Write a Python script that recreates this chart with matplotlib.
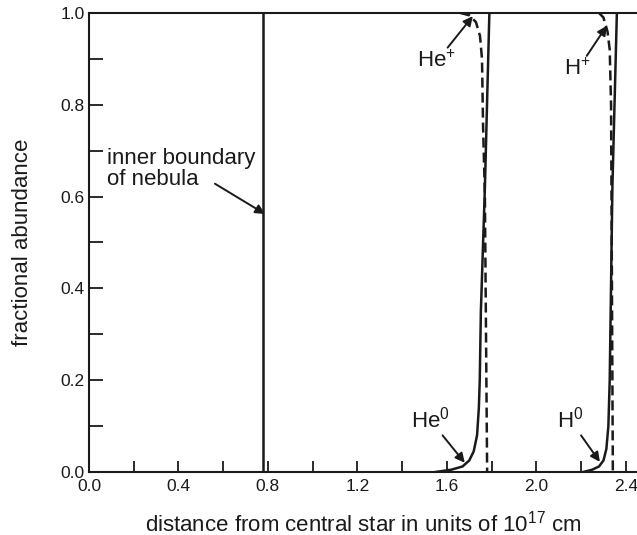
import matplotlib
matplotlib.use("Agg")
import matplotlib.pyplot as plt
from matplotlib.ticker import MultipleLocator

plt.rcParams['font.family'] = ['Liberation Sans', 'DejaVu Sans']
plt.rcParams['mathtext.fontset'] = 'custom'
plt.rcParams['mathtext.rm'] = 'Liberation Sans'
plt.rcParams['mathtext.default'] = 'regular'

# inner boundary of nebula
boundary_x = [0.78, 0.78]
boundary_y = [0.0, 1.0]

# He0 (solid) and He+ (dashed)
he0_x = [1.55, 1.62, 1.67, 1.70, 1.72, 1.735, 1.743, 1.747, 1.752, 1.77, 1.79]
he0_y = [0.0, 0.005, 0.012, 0.025, 0.045, 0.08, 0.14, 0.2, 0.35, 0.62, 1.0]
hep_x = [1.66, 1.70, 1.73, 1.748, 1.757, 1.762, 1.77, 1.775, 1.78]
hep_y = [1.0, 0.995, 0.98, 0.95, 0.90, 0.75, 0.6, 0.3, 0.0]

# H0 (solid) and H+ (dashed)
h0_x = [2.21, 2.25, 2.28, 2.30, 2.313, 2.322, 2.328, 2.34, 2.36]
h0_y = [0.0, 0.005, 0.012, 0.025, 0.05, 0.10, 0.2, 0.62, 1.0]
hp_x = [2.28, 2.30, 2.318, 2.328, 2.334, 2.338, 2.342]
hp_y = [1.0, 0.99, 0.96, 0.92, 0.8, 0.4, 0.0]

fig = plt.figure(figsize=(6.37, 5.35), dpi=100)
ax = fig.add_axes([0.1397, 0.1178, 0.8603, 0.858])

ink = '#1a1a1a'
ax.plot(boundary_x, boundary_y, color=ink, lw=1.8)
ax.plot(he0_x, he0_y, color=ink, lw=1.8)
ax.plot(hep_x, hep_y, color=ink, lw=1.8, dashes=(4, 2))
ax.plot(h0_x, h0_y, color=ink, lw=1.8)
ax.plot(hp_x, hp_y, color=ink, lw=1.8, dashes=(4, 2))

ax.set_xlim(0, 2.45)
ax.set_ylim(0, 1.0)
ax.spines['right'].set_visible(False)
for s in ['left', 'bottom', 'top']:
    ax.spines[s].set_linewidth(1.5)
    ax.spines[s].set_color(ink)

ax.xaxis.set_major_locator(MultipleLocator(0.4))
ax.xaxis.set_minor_locator(MultipleLocator(0.2))
ax.yaxis.set_major_locator(MultipleLocator(0.2))
ax.yaxis.set_minor_locator(MultipleLocator(0.1))
ax.tick_params(which='both', direction='in', color=ink, width=1.3,
               labelsize=12.5, labelcolor=ink, top=False, right=False)
ax.tick_params(axis='x', which='both', length=8, pad=5)
ax.tick_params(axis='y', which='both', length=10, pad=3)
ax.xaxis.set_major_formatter(plt.FuncFormatter(lambda v, p: f'{v:.1f}'))
ax.yaxis.set_major_formatter(plt.FuncFormatter(lambda v, p: f'{v:.1f}'))

ax.set_xlabel('distance from central star in units of 10$^{17}$ cm',
              fontsize=16, color=ink, labelpad=12)
ax.set_ylabel('fractional abundance', fontsize=16, color=ink, labelpad=20)

arrow = dict(arrowstyle='-|>', color=ink, lw=1.4, mutation_scale=14,
             shrinkA=0, shrinkB=0)
ax.annotate('', xy=(0.787, 0.562), xytext=(0.563, 0.628), arrowprops=arrow)
ax.text(0.08, 0.705, 'inner boundary\nof nebula', fontsize=16, color=ink,
        va='top', ha='left', linespacing=1.0)

ax.annotate('He$^{+}$', xy=(1.716, 0.993), xytext=(1.555, 0.895),
            fontsize=16, color=ink, ha='center', va='center', arrowprops=arrow)
ax.annotate('H$^{+}$', xy=(2.315, 0.972), xytext=(2.185, 0.877),
            fontsize=16, color=ink, ha='center', va='center', arrowprops=arrow)
ax.annotate('He$^{0}$', xy=(1.68, 0.02), xytext=(1.524, 0.114),
            fontsize=16, color=ink, ha='center', va='center', arrowprops=arrow)
ax.annotate('H$^{0}$', xy=(2.284, 0.022), xytext=(2.15, 0.114),
            fontsize=16, color=ink, ha='center', va='center', arrowprops=arrow)

fig.savefig('out.png', dpi=100)
